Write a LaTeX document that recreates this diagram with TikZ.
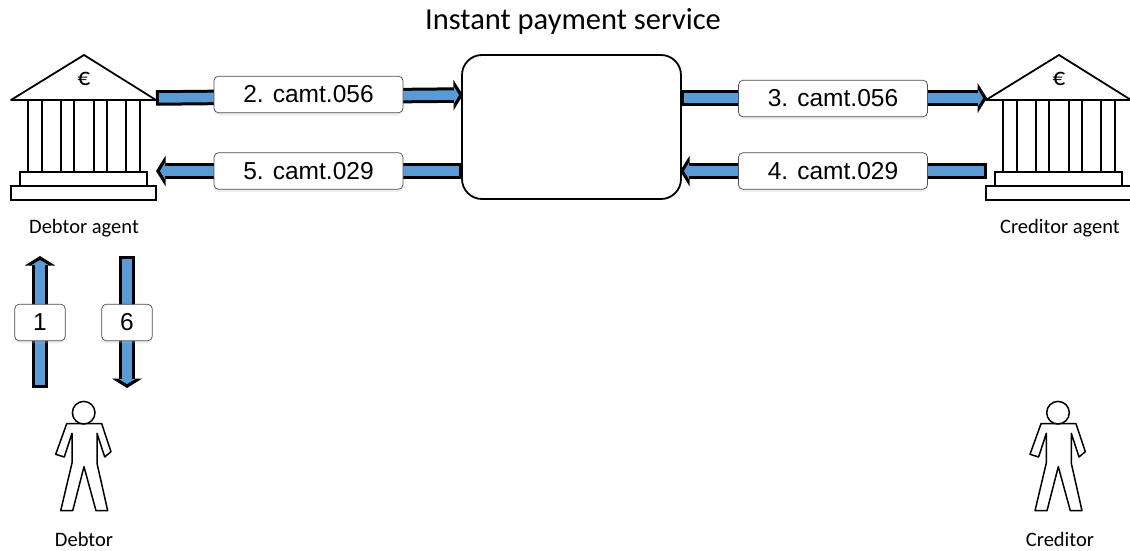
\documentclass[tikz,border=0pt]{standalone}
\usepackage{fontspec}
\setmainfont{Carlito}
\newfontfamily\arialf{Liberation Sans}
\usetikzlibrary{arrows.meta,shadows}
\definecolor{flowblue}{HTML}{5B9BD5}
\tikzset{
  x=1pt,y=-1pt,
  fatout/.style={line width=15.5pt,black,-{Triangle[length=9.5pt,width=30pt]}},
  fatin/.style={line width=9.5pt,flowblue,shorten <=2.8pt,shorten >=4pt,-{Triangle[length=5pt,width=16.5pt]}},
  msg/.style={draw=black!70,line width=.7pt,fill=white,rounded corners=4.5pt,inner sep=0pt,
    font=\arialf\fontsize{24.5}{26}\selectfont,
    drop shadow={shadow xshift=0pt,shadow yshift=-2.5pt,opacity=.25,fill=flowblue!60}},
  caption/.style={font=\fontsize{20.5}{22}\selectfont,inner sep=0pt},
  outl/.style={draw=black,line width=1.8pt,fill=white,line join=miter},
  pics/bank/.style={code={
    \draw[outl] (-64,117) rectangle (63,130.5);
    \draw[outl] (-73,131) rectangle (72,145);
    \foreach \xa/\xb in {-56/-42,-23/-10,10/23,42/56}{
      \draw[outl] (\xa,45) -- (\xa,117) (\xb,45) -- (\xb,117);}
    \draw[outl,line join=round] (0,0) -- (72,45) -- (-73,45) -- cycle;
    \node[inner sep=0pt,font=\fontsize{25}{26}\selectfont] at (0,24) {€};
  }},
  pics/person/.style={code={
    \draw[outl,line width=1.5pt,line join=round] (-17,11) -- (-28,41.6) -- (-19.4,44.3) -- (-11.7,20.6) -- (-11.7,50.3) -- (-23,98) -- (-11,98) -- (0.3,54) -- (12.3,98) -- (24,98) -- (13.3,50.6) -- (13.3,20.6) -- (21,44.3) -- (27.3,39) -- (18,11) -- cycle;
    \draw[outl,line width=1.5pt] (0,0) circle (11.3);
  }}
}
\newcommand{\fatarrow}[2]{\draw[fatout] (#1) -- (#2);\draw[fatin] (#1) -- (#2);}
\begin{document}
\begin{tikzpicture}
\useasboundingbox (0,0) rectangle (1130,551);
\fill[white] (0,0) rectangle (1130,551);
\node[inner sep=0pt,font=\fontsize{30.5}{32}\selectfont] (title) at (573,21) {Instant payment service};
% central service box
\node[draw=black,line width=1.8pt,fill=white,rounded corners=20pt,minimum width=219pt,minimum height=144pt,inner sep=0pt] (service) at (571.5,127) {};
% banks
\pic at (84,55) {bank};
\pic at (1059,55) {bank};
\node[caption] (dagent) at (84,228) {Debtor agent};
\node[caption] (cagent) at (1060,228) {Creditor agent};
% anchors
\coordinate (a2s) at (156,98); \coordinate (a2e) at (463,95);
\coordinate (a5s) at (462,171); \coordinate (a5e) at (156,171);
\coordinate (a3s) at (681,98); \coordinate (a3e) at (987,98);
\coordinate (a4s) at (987,171); \coordinate (a4e) at (680,171);
\coordinate (a1s) at (40,388); \coordinate (a1e) at (40,256);
\coordinate (a6s) at (127,256); \coordinate (a6e) at (127,388);
% connectors
\fatarrow{a2s}{a2e}
\fatarrow{a5s}{a5e}
\fatarrow{a3s}{a3e}
\fatarrow{a4s}{a4e}
\fatarrow{a1s}{a1e}
\fatarrow{a6s}{a6e}
% persons
\pic at (83.7,412.7) {person};
\pic at (1058,412.7) {person};
\node[caption] (debtor) at (84,539) {Debtor};
\node[caption] (creditor) at (1060,539) {Creditor};
% labels
\node[msg,minimum width=189pt,minimum height=36.5pt] (m2) at (308.5,94.5) {2. camt.056};
\node[msg,minimum width=189pt,minimum height=36.5pt] (m5) at (308.5,171) {5. camt.029};
\node[msg,minimum width=189pt,minimum height=36.5pt] (m3) at (833,98.5) {3. camt.056};
\node[msg,minimum width=189pt,minimum height=36.5pt] (m4) at (833,171) {4. camt.029};
\node[msg,minimum width=50.5pt,minimum height=36.5pt] (m1) at (40,322.5) {1};
\node[msg,minimum width=50.5pt,minimum height=36.5pt] (m6) at (127,322.5) {6};
\end{tikzpicture}
\end{document}
